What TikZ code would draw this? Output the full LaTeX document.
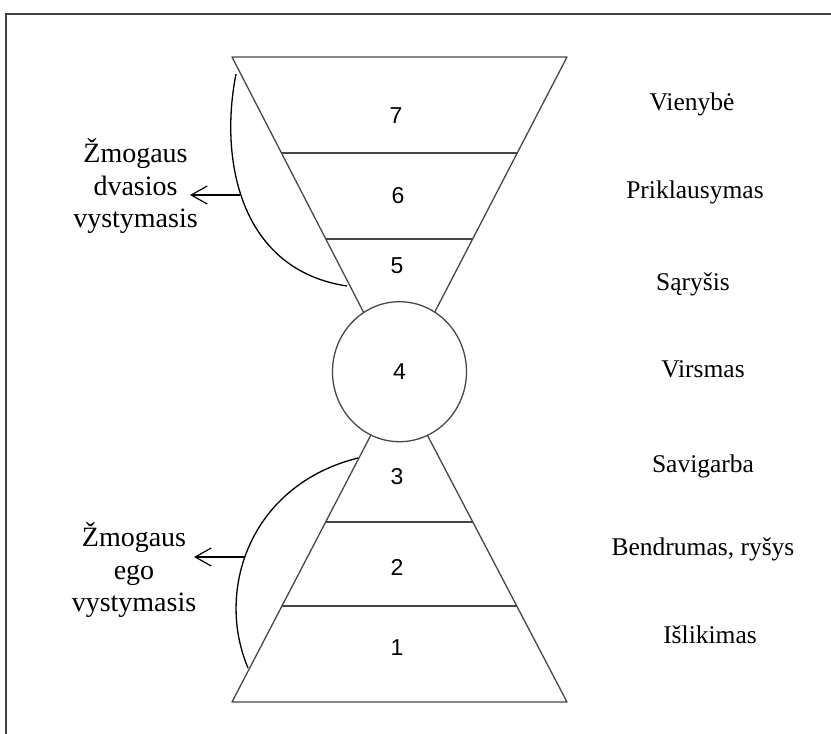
\documentclass[tikz,border=0pt]{standalone}
\usepackage{fontspec}
\setmainfont{Liberation Serif}
\newfontfamily\digitfont{Liberation Sans}
\usetikzlibrary{arrows.meta,shapes.geometric}
\begin{document}
\begin{tikzpicture}[x=1pt,y=-1pt,
  shapeline/.style={draw=black!72, line width=1.3pt, line join=round},
  curveline/.style={draw=black, line width=1.3pt},
  levelnum/.style={font=\digitfont\fontsize{23}{23}\selectfont, inner sep=0pt},
  rlabel/.style={font=\fontsize{25.5}{28}\selectfont, anchor=base, inner sep=0pt},
  llabel/.style={font=\fontsize{28}{32.5}\selectfont, align=center, inner sep=0pt},
  arr/.style={draw=black, line width=1.2pt, -{Straight Barb[length=16pt,width=18pt,line width=1.2pt]}}]
\useasboundingbox (0,0) rectangle (831,734);
% frame (top and left edges)
\draw[draw=black!75, line width=1.4pt] (831,14) -- (6,14) -- (6,734);
% funnels
\coordinate (apex) at (399,381);
\coordinate (tl) at (232,57);
\coordinate (tr) at (567,57);
\coordinate (bl) at (232,702);
\coordinate (br) at (567,702);
\draw[shapeline] (apex) -- (tl) -- (tr) -- cycle;
\draw[shapeline] (apex) -- (bl) -- (br) -- cycle;
% level separators
\coordinate (s76l) at (281.5,153); \coordinate (s76r) at (517.5,153);
\coordinate (s65l) at (325.8,239); \coordinate (s65r) at (473.2,239);
\coordinate (s32l) at (325.6,522); \coordinate (s32r) at (473.4,522);
\coordinate (s21l) at (281.9,606); \coordinate (s21r) at (517.1,606);
\draw[shapeline] (s76l) -- (s76r);
\draw[shapeline] (s65l) -- (s65r);
\draw[shapeline] (s32l) -- (s32r);
\draw[shapeline] (s21l) -- (s21r);
% circle
\node[shapeline, fill=white, ellipse, minimum width=134pt, minimum height=140pt, inner sep=0pt] (c4) at (399.5,371.7) {};
% numbers
\node[levelnum] (n7) at (396,116) {7};
\node[levelnum] (n6) at (398,196) {6};
\node[levelnum] (n5) at (397,266) {5};
\node[levelnum] (n4) at (c4) {4};
\node[levelnum] (n3) at (397,477) {3};
\node[levelnum] (n2) at (397,567) {2};
\node[levelnum] (n1) at (397,648) {1};
% right labels
\node[rlabel] (l7) at (692,110) {Vienybė};
\node[rlabel] (l6) at (695,198) {Priklausymas};
\node[rlabel] (l5) at (693,290) {Sąryšis};
\node[rlabel] (l4) at (703,377) {Virsmas};
\node[rlabel] (l3) at (703,472) {Savigarba};
\node[rlabel] (l2) at (703,555) {Bendrumas, ryšys};
\node[rlabel] (l1) at (710,643) {Išlikimas};
% left labels
\node[llabel] (up) at (135.5,186) {Žmogaus\\dvasios\\vystymasis};
\node[llabel] (lo) at (134,570) {Žmogaus\\ego\\vystymasis};
% braces (curves)
\coordinate (uc1) at (236,74);
\coordinate (uc2) at (347,286);
\coordinate (lc1) at (358,458);
\coordinate (lc2) at (248,668);
\draw[curveline] (uc1) .. controls (219,160) and (240,270) .. (uc2);
\draw[curveline] (lc1) .. controls (250,485) and (215,590) .. (lc2);
% arrows
\coordinate (ua) at (240,195); \coordinate (ut) at (190,195);
\coordinate (la) at (245,557); \coordinate (lt) at (194,557);
\draw[arr] (ua) -- (ut);
\draw[arr] (la) -- (lt);
\end{tikzpicture}
\end{document}
